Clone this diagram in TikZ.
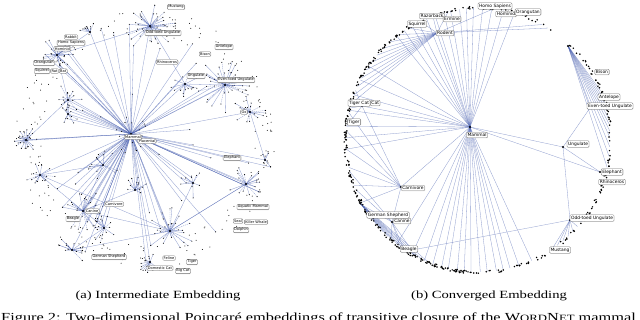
\documentclass[tikz,border=0pt]{standalone}
\usepackage{fontspec}
\setmainfont{Liberation Serif}
\newfontfamily\capfont[FakeStretch=1.33]{Liberation Serif}
\newfontfamily\labfont{DejaVu Sans}
\usetikzlibrary{positioning,calc,shadows}
\definecolor{edgeblue}{RGB}{80,102,180}
\newcommand{\smc}[1]{{\fontsize{9.6}{11}\selectfont #1}}

\begin{document}
\begin{tikzpicture}[
  x=1pt, y=-1pt,
  edge/.style={draw=edgeblue, line width=0.3pt, opacity=0.65},
  dedge/.style={edge, dash pattern=on 1.2pt off 0.8pt},
  lab/.style={draw=black!55, fill=white, rounded corners=1pt, inner sep=0.9pt,
    line width=0.3pt, font=\labfont\fontsize{3.6}{4}\selectfont,
    drop shadow={opacity=0.3, shadow xshift=0.4pt, shadow yshift=-0.4pt}},
  labr/.style={lab, inner sep=1.1pt, font=\labfont\fontsize{4.4}{5}\selectfont},
  capt/.style={font=\capfont\fontsize{11}{13}\selectfont, inner sep=0pt},
  figcapt/.style={font=\capfont\fontsize{12.3}{14}\selectfont, inner sep=0pt}
]
\useasboundingbox (0,0) rectangle (640,320);
\fill[white] (0,0) rectangle (640,320);

% (a) intermediate embedding
\pgfmathsetseed{42}
\coordinate (lc) at (145,140);
\coordinate (lmammal) at (131,134);
\coordinate (ltop) at (150,26);
\coordinate (lprim) at (57,55);
\coordinate (lung) at (185,84);
\coordinate (leven) at (225,85);
\coordinate (lne) at (250,112);
\coordinate (lrod) at (68,100);
\coordinate (lrod2) at (68,114);
\coordinate (lwest) at (26,140);
\coordinate (lnw) at (40,175);
\coordinate (lcarn) at (103,165);
\coordinate (lcan) at (83,211);
\coordinate (ldog) at (104,228);
\coordinate (lcat) at (135,190);
\coordinate (lfel) at (170,231);
\coordinate (lmid) at (193,183);
\coordinate (laqua) at (246,184);
\coordinate (leph) at (265,160);
\coordinate (lsw) at (72,250);
\coordinate (lbot) at (150,262);
\coordinate (lul) at (90,32);

\foreach \h in {ltop,lprim,lung,leven,lne,lrod,lrod2,lwest,lnw,lcarn,lcan,ldog,lcat,lfel,lmid,laqua,leph,lsw,lbot,lul}
  \draw[edge] (lmammal) -- (\h);
\foreach \a/\b in {lfel/lnw,lfel/lsw,lfel/lcan,lcan/lnw,lcat/lcan,lung/leven,ltop/lung,lprim/lrod,lcarn/lcan,
    laqua/lfel,ldog/lsw,lmid/lfel,lul/lprim,lcarn/lnw,lfel/laqua,lne/leph,ltop/lprim,lrod/lwest}
  \draw[edge] (\a) -- (\b);

\foreach \k in {1,...,34} {
  \pgfmathsetmacro\myang{rnd*360}
  \pgfmathsetmacro\myrad{127*sqrt(rnd)}
  \coordinate (q) at ($(lc)+(\myang:\myrad)$);
  \draw[edge] (lmammal) -- (q);
  \fill (q) circle (0.55pt);
}

\foreach \h/\n/\s in {ltop/40/26, lprim/28/18, lung/14/15, leven/34/28, lne/18/18,
    lrod/16/16, lrod2/12/14, lwest/26/13, lnw/14/15, lcarn/12/15, lcan/26/22,
    ldog/18/15, lcat/12/15, lfel/26/25, lmid/10/15, laqua/18/18, leph/8/9,
    lsw/16/15, lbot/14/12, lmammal/18/20, lul/10/10} {
  \foreach \k in {1,...,\n} {
    \pgfmathsetmacro\myang{rnd*360}
    \pgfmathsetmacro\myrad{\s*(0.25+0.75*rnd)}
    \pgfmathtruncatemacro\dsh{3*rnd}
    \pgfmathtruncatemacro\far{9*rnd}
    \coordinate (q) at ($(\h)+(\myang:\myrad)$);
    \ifnum\dsh=0 \draw[dedge] (\h) -- (q); \else \draw[edge] (\h) -- (q); \fi
    \ifnum\far=0 \draw[edge] (lmammal) -- (q); \fi
    \fill (q) circle (0.55pt);
  }
  \fill (\h) circle (1.2pt);
}
\foreach \k in {1,...,200} {
  \pgfmathsetmacro\myang{rnd*360}
  \pgfmathsetmacro\myrad{104+26*rnd}
  \fill ($(lc)+(\myang:\myrad)$) circle (0.5pt);
}

\node[lab] (mustL) at (176,7) {Mustang};
\node[lab] (oddL) at (163,33) {Odd-toed Ungulate};
\node[lab] (rhinoL) at (167,62) {Rhinoceros};
\node[lab] (antL) at (224,47) {Antelope};
\node[lab] (bisonL) at (205,54) {Bison};
\node[lab] (ungL) at (196,76) {Ungulate};
\node[lab] (evenL) at (236,80) {Even-toed Ungulate};
\node[lab] (oxL) at (244,112) {Ox};
\node[lab] (rabbitL) at (71,37) {Rabbit};
\node[lab, below=0.6pt of rabbitL] (homoL) {Homo Sapiens};
\node[lab, below left=0.6pt and -14pt of homoL] (hominidL) {Hominid};
\node[lab] (orangL) at (44,63) {Orangutan};
\node[lab] (squirL) at (42,71) {Squirrel};
\node[lab, right=0.5pt of squirL] (ratL) {Rat};
\node[lab, right=0.5pt of ratL] (batL) {Bat};
\node[lab] (placL) at (147,141) {Placental};
\node[lab] (mammalL) at (133,137) {Mammal};
\node[lab] (elephL) at (232,158) {Elephant};
\node[lab] (aquaL) at (253,207) {Aquatic Mammal};
\node[lab] (sealL) at (238,221) {Seal};
\node[lab] (killerL) at (256,222) {Killer Whale};
\node[lab] (dolphL) at (241,230) {Dolphin};
\node[lab] (carnL) at (114,204) {Carnivore};
\node[lab] (canL) at (92,211) {Canine};
\node[lab] (beagL) at (73,219) {Beagle};
\node[lab] (gshepL) at (109,257) {German Shepherd};
\node[lab] (felL) at (169,258) {Feline};
\node[lab] (tigerL) at (192,262) {Tiger};
\node[lab] (domL) at (160,268) {Domestic Cat};
\node[lab] (bigL) at (183,271) {Big Cat};

% (b) converged embedding
\pgfmathsetseed{7}
\coordinate (rc) at (478,140);
\coordinate (rmammal) at (470,127);
\coordinate (rrodent) at (437,33);
\coordinate (rhomo) at (493,9);
\coordinate (rtiger) at (362,106);
\coordinate (rcarn) at (401,187);
\coordinate (rcan) at (392,222);
\coordinate (rdog) at (360,203);
\coordinate (rung) at (563,147);
\coordinate (reven) at (590,108);
\coordinate (rtop) at (568,46);
\coordinate (rodd) at (570,220);
\coordinate (reph) at (600,172);
\coordinate (rbeagle) at (402,252);

\foreach \t in {232,236,240,243,247,251,255,258,262,265,268,272,276,281,286,
    176,181,186,193,200,207,214, 66,72,76,79,82,86,89,93,96,99,103,106,110,114,120,128} {
  \coordinate (q) at ($(rc)+(\t:132)$);
  \draw[edge] (rmammal) -- (q);
}
\foreach \t in {196,200,204,208,212,216,220,224,228,233,238,244,250,257,302,299} {
  \coordinate (q) at ($(rc)+(\t:132)$);
  \draw[edge] (rrodent) -- (q);
}
\foreach \t in {112,115,118,121,124,127,130,133,136,140,145} {
  \coordinate (q) at ($(rc)+(\t:132)$);
  \draw[edge] (rdog) -- (q);
}
\foreach \t in {118,124,131,150,158,166} {
  \coordinate (q) at ($(rc)+(\t:132)$);
  \draw[edge] (rcan) -- (q);
}
\foreach \t in {160,168,176,184,192} {
  \coordinate (q) at ($(rc)+(\t:132)$);
  \draw[edge] (rcarn) -- (q);
}
\foreach \t in {186,194,202} {
  \coordinate (q) at ($(rc)+(\t:132)$);
  \draw[edge] (rtiger) -- (q);
}
\foreach \t in {338,341,344,347,350,353,356,359,3,7,12} {
  \coordinate (q) at ($(rc)+(\t:132)$);
  \draw[edge] (rtop) -- (q);
}
\foreach \t in {38,41,44,47,50,53,56} {
  \coordinate (q) at ($(rc)+(\t:132)$);
  \draw[edge] (rodd) -- (q);
}
\foreach \a/\b in {rmammal/rrodent,rmammal/rtiger,rmammal/rcarn,rmammal/rung,rmammal/reph,
    rcarn/rcan,rcarn/rtiger,rcarn/rdog,rung/reven,rung/rodd,rung/reph,reven/rtop,rrodent/rhomo,
    rodd/rbeagle,rcan/rbeagle}
  \draw[edge] (\a) -- (\b);

\foreach \a/\b/\n in {95/135/80, 135/200/100, 200/292/120, 292/305/6, 312/360/45, 0/60/50, 60/95/30} {
  \foreach \k in {1,...,\n} {
    \pgfmathsetmacro\myang{\a+(\b-\a)*rnd}
    \pgfmathsetmacro\myrad{131+3*rnd}
    \fill ($(rc)+(\myang:\myrad)$) circle (0.85pt);
  }
}
\foreach \h in {rmammal,rrodent,rtiger,rcarn,rcan,rdog,rung,reven,rtop,rodd,reph}
  \fill (\h) circle (1.2pt);

\node[labr] (homoR) at (495,6) {Homo Sapiens};
\node[labr] (hominidR) at (506,14) {Hominid};
\node[labr] (orangR) at (528,12) {Orangutan};
\node[labr] (razR) at (432,16) {Razorback};
\node[labr] (ermR) at (452,19) {Ermine};
\node[labr] (squirR) at (417,24) {Squirrel};
\node[labr] (rodR) at (445,33) {Rodent};
\node[labr] (tigcatR) at (359,103) {Tiger Cat};
\node[labr, right=0pt of tigcatR] (catR) {Cat};
\node[labr] (tigerR) at (354,122) {Tiger};
\node[labr] (mammalR) at (477,135) {Mammal};
\node[labr] (bisonR) at (602,72) {Bison};
\node[labr] (antR) at (609,97) {Antelope};
\node[labr] (evenR) at (610,106) {Even-toed Ungulate};
\node[labr] (ungR) at (578,144) {Ungulate};
\node[labr] (elephR) at (612,172) {Elephant};
\node[labr] (rhinoR) at (612,182) {Rhinoceros};
\node[labr] (carnR) at (413,188) {Carnivore};
\node[labr] (canR) at (402,221) {Canine};
\node[labr] (gshepR) at (388,215) {German Shepherd};
\node[labr] (oddR) at (592,218) {Odd-toed Ungulate};
\node[labr] (beagR) at (409,249) {Beagle};
\node[labr] (mustR) at (560,250) {Mustang};

% captions
\node[capt, anchor=base] (capa) at (158,298.3) {(a) Intermediate Embedding};
\node[capt, anchor=base] (capb) at (489,298.3) {(b) Converged Embedding};
\node[figcapt, anchor=base west] (figcap) at (1,321.5)
  {Figure 2: Two-dimensional Poincaré embeddings of transitive closure of the W\smc{ORD}N\smc{ET} mammal};
\end{tikzpicture}
\end{document}
